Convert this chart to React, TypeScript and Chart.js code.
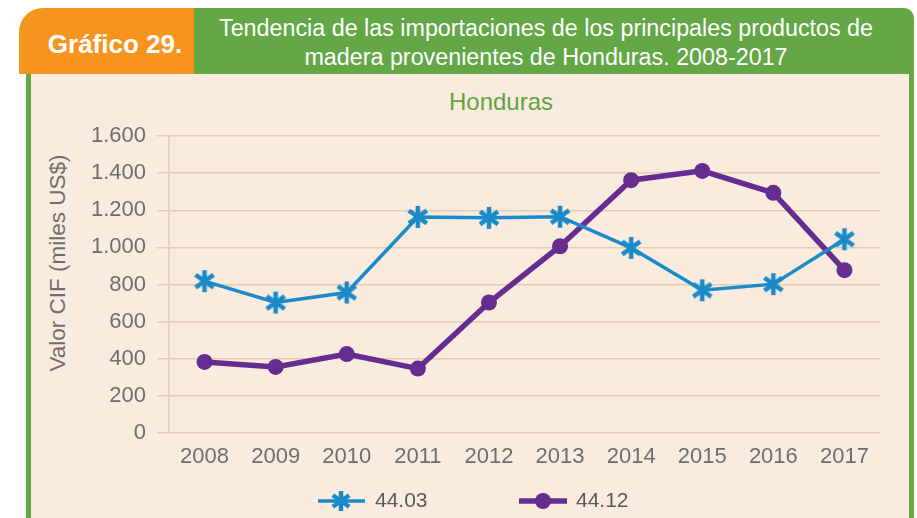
import React, { useEffect, useRef } from "react";
import { Chart, registerables } from "chart.js";

Chart.register(...registerables);

const years = ["2008", "2009", "2010", "2011", "2012", "2013", "2014", "2015", "2016", "2017"];
const series4403 = [818, 703, 757, 1164, 1159, 1165, 997, 769, 802, 1044];
const series4412 = [383, 356, 425, 347, 703, 1006, 1362, 1412, 1294, 877];
const seriesNames = ["44.03", "44.12"];
const yTickValues = [0, 200, 400, 600, 800, 1000, 1200, 1400, 1600];
const yTickLabels = ["0", "200", "400", "600", "800", "1.000", "1.200", "1.400", "1.600"];

const BLUE = "#1b8ac9";
const PURPLE = "#662d91";
const GRID = "#e5ccb2";
const TEXT = "#6d6e71";
const CREAM = "#f9ecdf";
const GREEN = "#63a746";
const ORANGE = "#f7941d";
const FONT = "'Liberation Sans', Arial, sans-serif";

function makeStar(size: number, color: string, lw: number): HTMLCanvasElement {
  const c = document.createElement("canvas");
  c.width = size;
  c.height = size;
  const ctx = c.getContext("2d")!;
  const r = size / 2 - 1;
  const cx = size / 2;
  ctx.strokeStyle = color;
  ctx.lineWidth = lw;
  ctx.lineCap = "butt";
  const angles = [90, 35, -35];
  for (const a of angles) {
    const rad = (a * Math.PI) / 180;
    ctx.beginPath();
    ctx.moveTo(cx - r * Math.cos(rad), cx - r * Math.sin(rad));
    ctx.lineTo(cx + r * Math.cos(rad), cx + r * Math.sin(rad));
    ctx.stroke();
  }
  return c;
}

function ChartView() {
  const ref = useRef<HTMLCanvasElement | null>(null);
  useEffect(() => {
    if (!ref.current) return;
    const star = makeStar(24, BLUE, 4.5);
    const chart = new Chart(ref.current, {
      type: "line",
      data: {
        labels: years,
        datasets: [
          {
            label: seriesNames[0],
            data: series4403,
            borderColor: BLUE,
            backgroundColor: BLUE,
            borderWidth: 3.5,
            pointStyle: star as any,
            pointRadius: 12,
            tension: 0,
          },
          {
            label: seriesNames[1],
            data: series4412,
            borderColor: PURPLE,
            backgroundColor: PURPLE,
            borderWidth: 5.5,
            pointStyle: "circle",
            pointRadius: 8,
            pointBorderWidth: 0,
            tension: 0,
          },
        ],
      },
      options: {
        animation: false,
        responsive: false,
        devicePixelRatio: 1,
        layout: { padding: { left: 43, right: 37, top: 136, bottom: 45 } },
        plugins: {
          legend: { display: false },
          title: { display: false },
          tooltip: { enabled: false },
        },
        scales: {
          x: {
            offset: true,
            grid: { display: false },
            border: { display: false },
            ticks: {
              color: TEXT,
              font: { family: FONT, size: 22 },
              padding: 3,
              maxRotation: 0,
            },
            afterFit: (s: any) => {
              s.height = 40;
            },
          },
          y: {
            min: 0,
            max: 1600,
            afterBuildTicks: (s: any) => {
              s.ticks = yTickValues.map((v) => ({ value: v }));
            },
            grid: {
              color: GRID,
              lineWidth: 1.5,
              drawTicks: true,
              tickLength: 12,
              tickColor: GRID,
            },
            border: { display: true, color: GRID, width: 1.5 },
            ticks: {
              color: TEXT,
              font: { family: FONT, size: 22 },
              padding: 11,
              callback: (v: any) => {
                const i = yTickValues.indexOf(Number(v));
                return i >= 0 ? yTickLabels[i] : "";
              },
            },
            title: { display: false },
            afterFit: (s: any) => {
              s.width = 126;
            },
          },
        },
      },
    });
    return () => chart.destroy();
  }, []);
  return (
    <canvas
      ref={ref}
      width={917}
      height={518}
      style={{ position: "absolute", left: 0, top: 0, width: 917, height: 518 }}
    />
  );
}

function LegendStar() {
  const pts = [90, 35, -35].map((a) => {
    const r = 10;
    const rad = (a * Math.PI) / 180;
    return [12 - r * Math.cos(rad), 12 - r * Math.sin(rad), 12 + r * Math.cos(rad), 12 + r * Math.sin(rad)];
  });
  return (
    <svg width={52} height={24} style={{ position: "absolute", left: 316, top: 489 }}>
      <line x1={2} y1={12} x2={49} y2={12} stroke={BLUE} strokeWidth={3.5} />
      <g transform="translate(13,0)">
        {pts.map((p, i) => (
          <line key={i} x1={p[0]} y1={p[1]} x2={p[2]} y2={p[3]} stroke={BLUE} strokeWidth={4.5} />
        ))}
      </g>
    </svg>
  );
}

function LegendDot() {
  return (
    <svg width={52} height={22} style={{ position: "absolute", left: 517, top: 490 }}>
      <line x1={2} y1={11} x2={50} y2={11} stroke={PURPLE} strokeWidth={5.5} />
      <circle cx={26} cy={11} r={8} fill={PURPLE} />
    </svg>
  );
}

export default function App() {
  return (
    <div style={{ position: "absolute", left: 0, top: 0, width: 917, height: 518, background: "#fff", overflow: "hidden", fontFamily: FONT }}>
      <div
        style={{
          position: "absolute",
          left: 26,
          top: 70,
          width: 878,
          height: 460,
          background: CREAM,
          borderLeft: `5px solid ${GREEN}`,
          borderRight: `5px solid ${GREEN}`,
        }}
      />
      <div
        style={{
          position: "absolute",
          left: 186,
          top: 8,
          width: 728,
          height: 66,
          background: GREEN,
          borderTopRightRadius: 10,
        }}
      />
      <div
        style={{
          position: "absolute",
          left: 19,
          top: 8,
          width: 175,
          height: 66,
          background: ORANGE,
          borderTopLeftRadius: 24,
        }}
      />
      <div
        style={{
          position: "absolute",
          left: 29,
          top: 8,
          width: 172,
          height: 66,
          display: "flex",
          alignItems: "center",
          justifyContent: "center",
          color: "#fff",
          fontWeight: "bold",
          fontSize: 26,
          paddingTop: 7,
          boxSizing: "border-box",
        }}
      >
        Gráfico 29.
      </div>
      <div
        style={{
          position: "absolute",
          left: 194,
          top: 14,
          width: 704,
          textAlign: "center",
          color: "#fff",
          fontSize: 23.3,
          lineHeight: "29px",
          whiteSpace: "nowrap",
        }}
      >
        Tendencia de las importaciones de los principales productos de
        <br />
        madera provenientes de Honduras. 2008-2017
      </div>
      <div
        style={{
          position: "absolute",
          left: 401,
          top: 88,
          width: 200,
          textAlign: "center",
          color: "#5fa33f",
          fontSize: 24,
        }}
      >
        Honduras
      </div>
      <div
        style={{
          position: "absolute",
          left: 58,
          top: 263,
          transform: "translate(-50%, -50%) rotate(-90deg)",
          whiteSpace: "nowrap",
          color: TEXT,
          fontSize: 22.5,
        }}
      >
        Valor CIF (miles US$)
      </div>
      <ChartView />
      <LegendStar />
      <div style={{ position: "absolute", left: 375, top: 488, color: "#58595b", fontSize: 21 }}>{seriesNames[0]}</div>
      <LegendDot />
      <div style={{ position: "absolute", left: 576, top: 488, color: "#58595b", fontSize: 21 }}>{seriesNames[1]}</div>
    </div>
  );
}
